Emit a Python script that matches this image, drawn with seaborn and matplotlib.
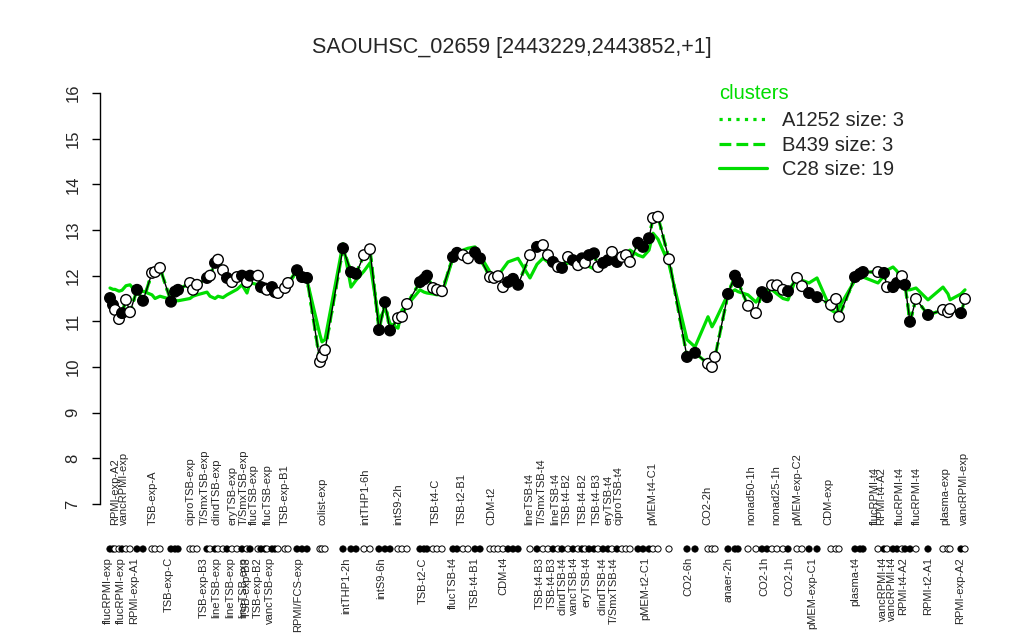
import pandas as pd
import seaborn as sns
import matplotlib.pyplot as plt
from matplotlib.lines import Line2D

sns.set_style("white")
plt.rcParams['font.family'] = ['Liberation Sans', 'DejaVu Sans']

green = "#00DD00"

# sample position along the condition axis
pos = [10, 13, 15, 19, 22, 26, 30, 37, 43, 52, 55, 60, 71, 75, 78, 90, 93, 97,
       107, 110, 115, 118, 123, 127, 132, 137, 142, 147, 150, 158, 161, 165, 167,
       172, 175, 178, 185, 188, 197, 202, 207, 220, 222, 225, 243, 251, 256, 264,
       270, 279, 285, 290, 298, 302, 307, 320, 324, 327, 333, 337, 342, 353, 357,
       363, 368, 375, 380, 390, 394, 398, 403, 408, 413, 418, 430, 437, 443, 448,
       453, 458, 462, 468, 473, 478, 482, 485, 489, 494, 498, 503, 508, 512, 517,
       522, 526, 530, 538, 543, 549, 553, 558, 569, 587, 595, 608, 612, 615, 628,
       635, 638, 648, 656, 662, 667, 672, 677, 683, 688, 697, 702, 709, 717, 731,
       736, 739, 755, 760, 763, 778, 784, 787, 793, 797, 802, 805, 810, 816, 828,
       843, 848, 850, 861, 865]

# expression of SAOUHSC_02659 (log2)
expr = [11.51, 11.36, 11.25, 11.05, 11.18, 11.47, 11.20, 11.69, 11.45, 12.06,
        12.08, 12.17, 11.43, 11.65, 11.69, 11.84, 11.69, 11.80, 11.95, 12.00,
        12.28, 12.35, 12.12, 11.95, 11.86, 11.97, 12.00, 11.86, 12.00, 12.00,
        11.75, 11.72, 11.69, 11.75, 11.64, 11.62, 11.73, 11.84, 12.12, 11.97,
        11.95, 10.11, 10.22, 10.37, 12.60, 12.08, 12.04, 12.45, 12.58, 10.81,
        11.42, 10.80, 11.07, 11.10, 11.38, 11.86, 11.92, 12.00, 11.73, 11.69,
        11.66, 12.41, 12.50, 12.45, 12.38, 12.51, 12.38, 11.97, 11.95, 11.99,
        11.75, 11.86, 11.93, 11.80, 12.45, 12.63, 12.67, 12.45, 12.30, 12.19,
        12.17, 12.41, 12.34, 12.23, 12.38, 12.28, 12.45, 12.49, 12.19, 12.28,
        12.34, 12.52, 12.30, 12.41, 12.45, 12.30, 12.72, 12.63, 12.82, 13.26,
        13.29, 12.36, 10.22, 10.31, 10.07, 10.00, 10.22, 11.60, 12.00, 11.86,
        11.34, 11.18, 11.64, 11.53, 11.79, 11.79, 11.69, 11.66, 11.95, 11.77,
        11.62, 11.53, 11.36, 11.49, 11.10, 11.97, 12.04, 12.08, 12.08, 12.06,
        11.75, 11.75, 11.84, 11.99, 11.80, 10.99, 11.49, 11.14, 11.25, 11.20,
        11.27, 11.18, 11.49]

filled = [1, 1, 0, 0, 1, 0, 0, 1, 1, 0, 0, 0, 1, 1, 1, 0, 0, 0, 1, 0, 1, 0, 0, 1,
          0, 0, 1, 0, 1, 0, 1, 1, 0, 1, 1, 0, 0, 0, 1, 1, 1, 0, 0, 0, 1, 1, 1, 0,
          0, 1, 1, 1, 0, 0, 0, 1, 1, 1, 0, 0, 0, 1, 1, 0, 0, 1, 1, 0, 0, 0, 0, 1,
          1, 1, 0, 1, 0, 0, 1, 0, 1, 0, 1, 0, 1, 0, 1, 1, 0, 1, 1, 0, 1, 0, 0, 0,
          1, 1, 1, 0, 0, 0, 1, 1, 0, 0, 0, 1, 1, 1, 0, 0, 1, 1, 0, 0, 0, 1, 0, 0,
          1, 1, 0, 0, 0, 1, 1, 1, 0, 1, 0, 1, 1, 0, 1, 1, 0, 1, 0, 0, 0, 1, 0]

# cluster mean profile C28
c28 = [11.73, 11.70, 11.70, 11.66, 11.68, 11.78, 11.80, 11.62, 11.66, 11.58,
       11.50, 11.55, 11.48, 11.46, 11.45, 11.50, 11.55, 11.58, 11.64, 11.55,
       11.50, 11.55, 11.52, 11.58, 11.64, 11.70, 11.80, 11.62, 11.85, 11.80,
       11.65, 11.75, 11.70, 11.70, 11.60, 11.65, 11.75, 11.80, 12.10, 11.95,
       11.90, 10.70, 10.55, 10.60, 12.70, 11.75, 11.90, 12.10, 12.28, 11.00,
       11.30, 10.95, 10.85, 11.25, 11.35, 11.69, 11.64, 11.62, 11.60, 11.58,
       11.60, 12.40, 12.50, 12.56, 12.60, 12.63, 12.45, 12.08, 12.02, 12.00,
       12.15, 12.30, 12.34, 12.38, 11.95, 12.25, 12.38, 12.30, 12.28, 12.25,
       12.20, 12.28, 12.26, 12.22, 12.20, 12.24, 12.20, 12.15, 12.12, 12.20,
       12.30, 12.40, 12.35, 12.49, 12.49, 12.56, 12.45, 12.41, 12.56, 12.93,
       12.80, 12.25, 10.60, 10.44, 11.10, 10.88, 11.00, 11.60, 11.69, 11.65,
       11.58, 11.42, 11.64, 11.69, 11.69, 11.60, 11.50, 11.47, 12.00, 11.90,
       11.84, 11.95, 11.25, 11.18, 11.30, 11.90, 11.95, 11.97, 11.84, 12.00,
       12.12, 12.19, 12.10, 11.85, 11.69, 11.69, 11.73, 11.47, 11.75, 11.60,
       11.47, 11.60, 11.69]

top_pos = [15, 24, 53, 90, 105, 117, 132, 144, 154, 168, 185, 222, 265, 298,
           336, 362, 391, 429, 442, 455, 467, 483, 497, 508, 519, 552, 607, 651,
           676, 697, 728, 775, 781, 800, 817, 845, 864]
top_lab = ["RPMI-exp-A2", "vancRPMI-exp", "TSB-exp-A", "ciproTSB-exp",
           "T/SmxTSB-exp", "clindTSB-exp", "eryTSB-exp", "T/SmxTSB-exp",
           "flucTSB-exp", "flucTSB-exp", "TSB-exp-B1", "colist-exp",
           "intTHP1-6h", "intS9-2h", "TSB-t4-C", "TSB-t2-B1", "CDM-t2",
           "lineTSB-t4", "T/SmxTSB-t4", "lineTSB-t4", "TSB-t4-B2", "TSB-t4-B2",
           "TSB-t4-B3", "eryTSB-t4", "ciproTSB-t4", "pMEM-t4-C1", "CO2-2h",
           "nonad50-1h", "nonad25-1h", "pMEM-exp-C2", "CDM-exp", "flucRPMI-t4",
           "RPMI-t4-A2", "flucRPMI-t4", "flucRPMI-t4", "plasma-exp",
           "vancRPMI-exp"]

bot_pos = [8, 21, 34, 69, 104, 116, 130, 143, 147, 158, 170, 198, 246, 281,
           323, 353, 375, 403, 440, 452, 463, 474, 486, 502, 514, 545, 588, 628,
           664, 689, 712, 755, 783, 792, 803, 828, 860]
bot_lab = ["flucRPMI-exp", "flucRPMI-exp", "RPMI-exp-A1", "TSB-exp-C",
           "TSB-exp-B3", "lineTSB-exp", "lineTSB-exp", "lineTSB-exp",
           "TSB-exp-B3", "TSB-exp-B2", "vancTSB-exp", "RPMI/FCS-exp",
           "intTHP1-2h", "intS9-6h", "TSB-t2-C", "flucTSB-t4", "TSB-t4-B1",
           "CDM-t4", "TSB-t4-B3", "TSB-t4-B3", "clindTSB-t4", "vancTSB-t4",
           "eryTSB-t4", "clindTSB-t4", "T/SmxTSB-t4", "pMEM-t2-C1", "CO2-6h",
           "anaer-2h", "CO2-1h", "CO2-1h", "pMEM-exp-C1", "plasma-t4",
           "vancRPMI-t4", "vancRPMI-t4", "RPMI-t4-A2", "RPMI-t2-A1",
           "RPMI-exp-A2"]

df = pd.DataFrame({"pos": pos, "expr": expr, "c28": c28,
                   "kind": ["filled" if f else "open" for f in filled]})

fig = plt.figure(figsize=(10.24, 6.4), dpi=100)
ax = fig.add_axes([100 / 1024, 136 / 640, 875 / 1024, 411 / 640])

# cluster profiles
sns.lineplot(data=df, x="pos", y="expr", ax=ax, color=green, lw=2.3,
             linestyle=":", estimator=None, sort=False)
sns.lineplot(data=df, x="pos", y="expr", ax=ax, color=green, lw=2.3,
             linestyle="--", estimator=None, sort=False)
sns.lineplot(data=df, x="pos", y="c28", ax=ax, color=green, lw=2.3,
             estimator=None, sort=False)

# gene profile
sns.lineplot(data=df, x="pos", y="expr", ax=ax, color="black", lw=1,
             estimator=None, sort=False)
sns.scatterplot(data=df, x="pos", y="expr", hue="kind", ax=ax,
                palette={"filled": "black", "open": "white"},
                edgecolor="black", linewidth=1, s=58, legend=False, zorder=4)

# rug of samples
rug_y = (504 - 549) / 411
ax.scatter(df["pos"], [rug_y] * len(df), s=20,
           c=["black" if k == "filled" else "white" for k in df["kind"]],
           edgecolors="black", linewidths=0.7,
           transform=ax.get_xaxis_transform(), clip_on=False, zorder=4)

for p, lab in zip(top_pos, top_lab):
    ax.text(p, (504 - 525) / 411, lab, rotation=90, ha="center", va="bottom",
            fontsize=8, transform=ax.get_xaxis_transform())
for p, lab in zip(bot_pos, bot_lab):
    ax.text(p, (504 - 557) / 411, lab, rotation=90, ha="center", va="top",
            fontsize=8, transform=ax.get_xaxis_transform())

ax.set_xlim(0, 875)
ax.set_ylim(7, 16)
ax.set_yticks(range(7, 17))
ax.set_xticks([])
ax.tick_params(axis="y", left=True, length=6, width=1, labelsize=12,
               labelrotation=90, pad=8, color="black")
for lab in ax.get_yticklabels():
    lab.set_va("center")
for s in ["top", "right", "bottom"]:
    ax.spines[s].set_visible(False)
ax.spines["left"].set_color("black")
ax.spines["left"].set_linewidth(1)
ax.set_xlabel("")
ax.set_ylabel("")

fig.text(0.5, 1 - 48 / 640, "SAOUHSC_02659 [2443229,2443852,+1]",
         ha="center", va="center", fontsize=15.5)

handles = [Line2D([], [], color=green, lw=2.3, linestyle=":"),
           Line2D([], [], color=green, lw=2.3, linestyle="--"),
           Line2D([], [], color=green, lw=2.3)]
leg = ax.legend(handles, ["A1252 size: 3", "B439 size: 3", "C28 size: 19"],
                title="clusters", loc="upper left",
                bbox_to_anchor=(719 / 1024, 1 - 84 / 640),
                bbox_transform=fig.transFigure, frameon=False, fontsize=14.5,
                title_fontsize=14.5, handlelength=2.4, handletextpad=0.75,
                labelspacing=0.27, borderpad=0, borderaxespad=0,
                alignment="left")
leg._legend_box.sep = 6
leg.get_title().set_color(green)

fig.savefig("out.png", dpi=100)
